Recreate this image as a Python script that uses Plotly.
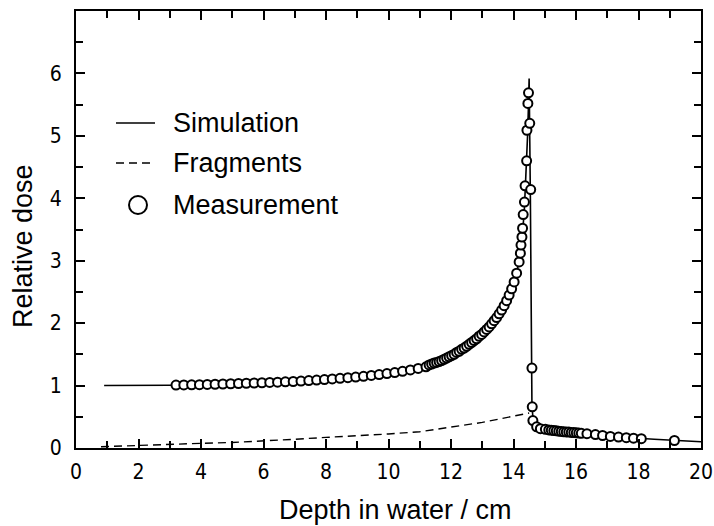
import plotly.graph_objects as go

# ---------------- data ----------------
sim_x = [0.9, 2.0, 3.0, 4.0, 5.0, 6.0, 7.0, 8.0, 9.0, 10.0, 10.5, 11.0, 11.5, 12.0,
         12.5, 13.0, 13.5, 13.8, 14.0, 14.1, 14.2, 14.3, 14.35, 14.4, 14.45, 14.48,
         14.5, 14.54, 14.57, 14.59, 14.63, 14.7, 14.8, 15.0, 15.5, 16.0, 16.5, 17.0,
         17.5, 18.0, 18.5, 19.0, 19.5, 20.0]
sim_y = [1.0, 1.0, 1.005, 1.015, 1.03, 1.046, 1.066, 1.10, 1.14, 1.195, 1.235, 1.28,
         1.355, 1.475, 1.63, 1.83, 2.12, 2.38, 2.63, 2.80, 3.05, 3.50, 3.85, 4.35,
         5.0, 5.5, 5.92, 4.0, 1.5, 0.7, 0.42, 0.36, 0.33, 0.305, 0.27, 0.245, 0.22,
         0.195, 0.172, 0.155, 0.14, 0.125, 0.112, 0.10]

frag_x = [0.8, 2.0, 3.0, 4.0, 5.0, 6.0, 7.0, 8.0, 9.0, 10.0, 11.0, 12.0, 13.0, 13.5,
          14.0, 14.5]
frag_y = [0.02, 0.045, 0.064, 0.075, 0.088, 0.11, 0.14, 0.17, 0.195, 0.225, 0.26,
          0.33, 0.41, 0.46, 0.51, 0.56]

meas_x = [3.20, 3.45, 3.70, 3.95, 4.20, 4.45, 4.70, 4.95, 5.20, 5.45, 5.70, 5.95,
          6.20, 6.45, 6.70, 6.95, 7.20, 7.45, 7.70, 7.95, 8.20, 8.45, 8.70, 8.95,
          9.20, 9.45, 9.70, 9.95, 10.20, 10.45, 10.70, 10.95, 11.20,
          11.30, 11.38, 11.46, 11.54, 11.62, 11.70, 11.78, 11.86, 11.94, 12.02,
          12.10, 12.18, 12.26, 12.34, 12.42, 12.50, 12.58, 12.66, 12.74, 12.82,
          12.90, 12.98, 13.06, 13.14, 13.22, 13.30, 13.38, 13.46, 13.54, 13.62,
          13.70, 13.78, 13.86, 13.94, 14.02, 14.10, 14.18,
          14.22, 14.24, 14.27, 14.29, 14.31, 14.35, 14.37, 14.42, 14.43, 14.46,
          14.48, 14.52, 14.55, 14.59, 14.60, 14.62,
          14.74, 14.86, 15.02, 15.13, 15.21, 15.29, 15.37, 15.45, 15.53, 15.61,
          15.69, 15.77, 15.85, 15.93, 16.01, 16.09, 16.17, 16.35, 16.62, 16.85,
          17.10, 17.36, 17.61, 17.84, 18.09, 19.15]
meas_y = [1.008, 1.010, 1.012, 1.015, 1.018, 1.021, 1.025, 1.029, 1.033, 1.037,
          1.041, 1.045, 1.050, 1.055, 1.060, 1.065, 1.072, 1.080, 1.088, 1.097,
          1.106, 1.116, 1.126, 1.137, 1.149, 1.162, 1.176, 1.192, 1.209, 1.228,
          1.250, 1.274, 1.300,
          1.33, 1.345, 1.36, 1.37, 1.385, 1.40, 1.42, 1.44, 1.46, 1.48,
          1.50, 1.53, 1.55, 1.58, 1.60, 1.63, 1.66, 1.69, 1.72, 1.75,
          1.79, 1.82, 1.86, 1.90, 1.94, 1.99, 2.04, 2.09, 2.15, 2.21,
          2.28, 2.36, 2.45, 2.55, 2.66, 2.80, 2.98,
          3.12, 3.25, 3.38, 3.52, 3.74, 3.94, 4.20, 4.60, 5.09, 5.52,
          5.69, 5.20, 4.14, 1.28, 0.66, 0.44,
          0.34, 0.31, 0.30, 0.29, 0.285, 0.28, 0.275, 0.27, 0.265, 0.26,
          0.258, 0.255, 0.25, 0.247, 0.243, 0.24, 0.235, 0.23, 0.215, 0.20,
          0.185, 0.175, 0.165, 0.157, 0.15, 0.12]

x_ticks = [0, 2, 4, 6, 8, 10, 12, 14, 16, 18, 20]
y_ticks = [0, 1, 2, 3, 4, 5, 6]

legend_labels = ["Simulation", "Fragments", "Measurement"]
x_title = "Depth in water / cm"
y_title = "Relative dose"

# ---------------- layout geometry ----------------
W, H = 714, 526
L, R, T, B = 76, 13, 11, 78
PW, PH = W - L - R, H - T - B


def px(xp):
    return (xp - L) / PW


def py(yp):
    return (H - B - yp) / PH


TEXT_FONT = "Liberation Sans, Arial, sans-serif"
TICK_FONT = "DejaVu Sans Condensed, sans-serif"

fig = go.Figure()
fig.add_trace(go.Scatter(x=frag_x, y=frag_y, mode="lines", name=legend_labels[1],
                         line=dict(color="black", width=1.4, dash="8px,5px"),
                         showlegend=False))
fig.add_trace(go.Scatter(x=sim_x, y=sim_y, mode="lines", name=legend_labels[0],
                         line=dict(color="black", width=1.6),
                         showlegend=False))
fig.add_trace(go.Scatter(x=meas_x, y=meas_y, mode="markers", name=legend_labels[2],
                         marker=dict(symbol="circle", size=9, color="white",
                                     line=dict(color="black", width=2)),
                         showlegend=False))

axis_common = dict(
    showgrid=False, zeroline=False, showline=True, linecolor="black", linewidth=2,
    ticks="inside", tickcolor="black", tickwidth=1.5, ticklen=9, mirror="ticks",
    tickfont=dict(family=TICK_FONT, size=21, color="black"),
    ticklabeloverflow="allow", automargin=False,
)
fig.update_xaxes(range=[0, 20], tickmode="array", tickvals=x_ticks,
                 ticktext=[str(v) for v in x_ticks], ticklabelstandoff=4,
                 minor=dict(dtick=1, tick0=0, ticks="inside", ticklen=7,
                            tickwidth=1.5, tickcolor="black"),
                 **axis_common)
fig.update_yaxes(range=[0, 7], tickmode="array", tickvals=y_ticks,
                 ticktext=[str(v) for v in y_ticks], ticklabelstandoff=8,
                 minor=dict(dtick=0.5, tick0=0, ticks="inside", ticklen=7,
                            tickwidth=1.5, tickcolor="black"),
                 **axis_common)

annotations = [
    dict(text=x_title, xref="paper", yref="paper", x=px(395.5), y=py(510),
         xanchor="center", yanchor="middle", showarrow=False,
         font=dict(family=TEXT_FONT, size=27, color="black")),
    dict(text=y_title, xref="paper", yref="paper", x=px(23), y=py(246),
         xanchor="center", yanchor="middle", textangle=-90, showarrow=False,
         font=dict(family=TEXT_FONT, size=27, color="black")),
]
row_y = [123, 163, 205]
for lab, ry in zip(legend_labels, row_y):
    annotations.append(dict(text=lab, xref="paper", yref="paper", x=px(171), y=py(ry),
                            xanchor="left", yanchor="middle", showarrow=False,
                            font=dict(family=TEXT_FONT, size=27, color="black")))

shapes = [
    dict(type="line", xref="paper", yref="paper", x0=px(116), x1=px(155),
         y0=py(row_y[0]), y1=py(row_y[0]), line=dict(color="black", width=1.6)),
    dict(type="line", xref="paper", yref="paper", x0=px(116), x1=px(155),
         y0=py(row_y[1]), y1=py(row_y[1]),
         line=dict(color="black", width=1.4, dash="8px,5px")),
    dict(type="circle", xref="paper", yref="paper", x0=px(129), x1=px(147),
         y0=py(row_y[2] + 9), y1=py(row_y[2] - 9),
         line=dict(color="black", width=2), fillcolor="white"),
]

fig.update_layout(
    width=W, height=H, margin=dict(l=L, r=R, t=T, b=B, pad=0, autoexpand=False),
    paper_bgcolor="white", plot_bgcolor="white",
    annotations=annotations, shapes=shapes, showlegend=False,
    font=dict(family=TEXT_FONT, color="black"),
)

fig.write_html("out.html")
